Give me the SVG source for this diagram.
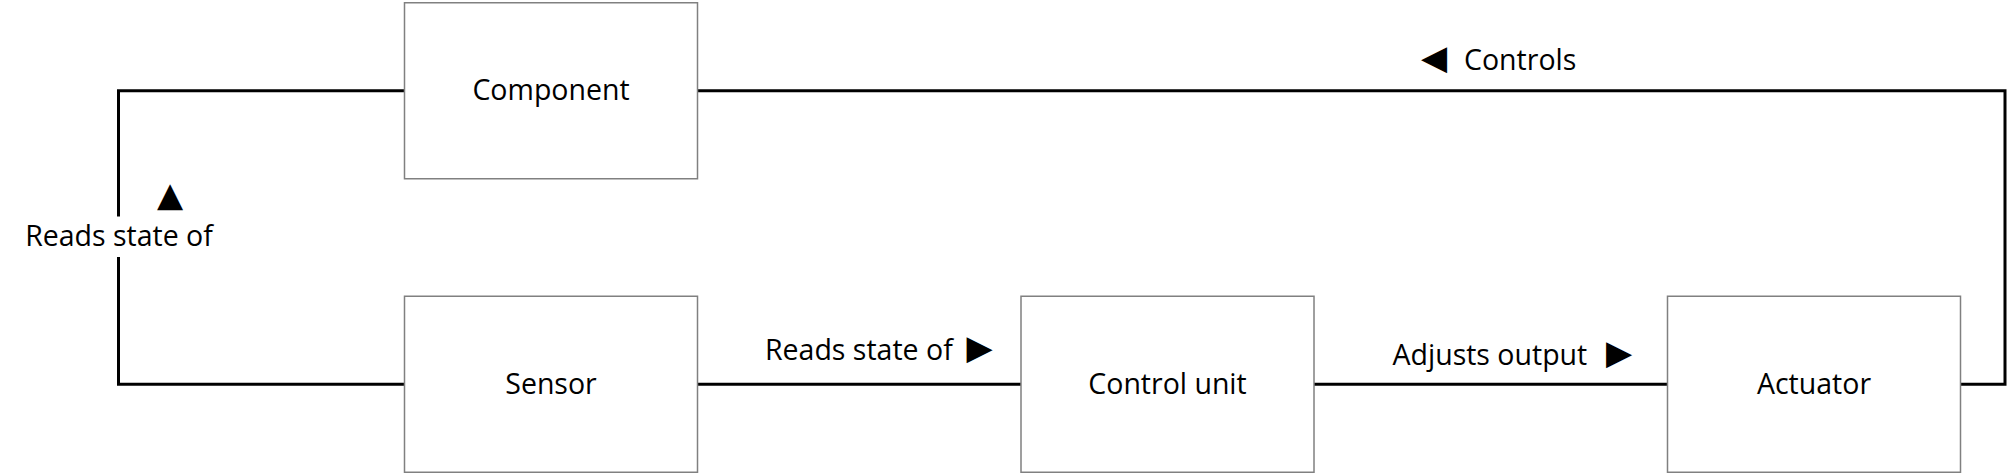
<svg xmlns="http://www.w3.org/2000/svg" width="2013" height="475" viewBox="0 0 2013 475">
<style>
.box{fill:#ffffff;stroke:#808080;stroke-width:1.5}
.lbl{font-family:"Open Sans","Noto Sans","Liberation Sans",sans-serif;font-size:28.5px;fill:#000000}
.mid{text-anchor:middle}
.conn{fill:none;stroke:#000000;stroke-width:3;stroke-linejoin:miter}
.tri{font-family:"DejaVu Sans",sans-serif;font-size:34px;fill:#000000;text-anchor:middle}
</style>
<rect width="2013" height="475" fill="#ffffff"/>
<g id="connectors">
<path class="conn" d="M404.5,90.75 H118.5 V216.5"/>
<path class="conn" d="M118.5,257 V384.25 H404.5"/>
<path class="conn" d="M697.5,384.25 H1021"/>
<path class="conn" d="M1314,384.25 H1667.5"/>
<path class="conn" d="M1960.5,384.25 H2005 V90.75 H697.5"/>
<text class="lbl mid" x="119" y="246">Reads state of</text>
<text class="tri" x="170" y="205.5">▲</text>
<text class="lbl" x="765" y="360">Reads state of</text>
<text class="tri" x="979.5" y="358.6">▶</text>
<text class="lbl" x="1392.5" y="365">Adjusts output</text>
<text class="tri" x="1619" y="363.6">▶</text>
<text class="tri" x="1434" y="68.6">◀</text>
<text class="lbl" x="1464" y="70">Controls</text>
</g>
<g id="component">
<rect class="box" x="404.5" y="2.75" width="293" height="176"/>
<text class="lbl mid" x="551" y="100">Component</text>
</g>
<g id="sensor">
<rect class="box" x="404.5" y="296.25" width="293" height="176"/>
<text class="lbl mid" x="551" y="394">Sensor</text>
</g>
<g id="control-unit">
<rect class="box" x="1021" y="296.25" width="293" height="176"/>
<text class="lbl mid" x="1167.5" y="394">Control unit</text>
</g>
<g id="actuator">
<rect class="box" x="1667.5" y="296.25" width="293" height="176"/>
<text class="lbl mid" x="1814" y="394">Actuator</text>
</g>
</svg>
